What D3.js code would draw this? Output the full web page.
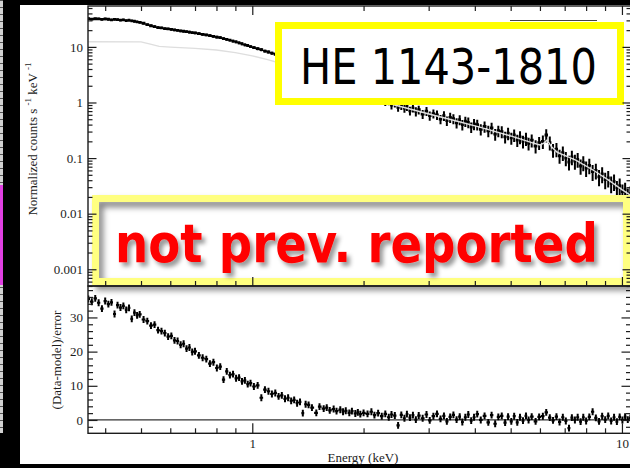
<!DOCTYPE html>
<html>
<head>
<meta charset="utf-8">
<script src="https://cdn.jsdelivr.net/npm/d3@7"></script>
<style>
  html, body { margin: 0; padding: 0; background: #000; overflow: hidden; }
  svg { display: block; }
</style>
</head>
<body>
<script>
// ---- Spectrum of HE 1143-1810: binned counts, fit model and residuals ----

// Bin centre energies (keV)
const energy = [
  0.360,0.368,0.376,0.384,0.392,0.400,0.408,0.416,0.424,0.432,0.440,0.448,0.456,0.464,0.472,0.480,0.488,0.496,
  0.508,0.520,0.532,0.544,0.556,0.568,0.580,0.592,0.604,0.616,0.628,0.640,0.652,0.664,0.676,0.688,0.700,
  0.717,0.734,0.751,0.768,0.785,0.802,0.819,0.836,0.853,0.870,0.887,0.904,0.921,0.938,0.955,0.972,0.989,
  1.010,1.034,1.058,1.082,1.106,1.130,1.154,1.178,1.202,1.226,1.250,1.274,1.298,1.322,1.346,1.370,1.394,
  1.42,1.45,1.49,1.52,1.56,1.59,1.62,1.66,1.69,1.73,1.76,1.79,1.83,1.86,1.90,1.93,1.96,2.00,
  2.05,2.10,2.14,2.19,2.24,2.29,2.34,2.38,2.43,2.48,2.53,2.58,2.62,2.67,2.72,2.77,
  2.82,2.89,2.96,3.02,3.09,3.16,3.23,3.30,3.36,3.43,3.50,3.57,3.64,3.70,3.77,3.84,3.91,3.98,
  4.06,4.15,4.25,4.35,4.44,4.54,4.63,4.73,4.83,4.92,5.02,5.11,5.21,5.30,5.40,5.50,5.59,
  5.70,5.84,5.97,6.11,6.24,6.38,6.51,6.65,6.78,6.92,7.05,7.19,7.32,7.46,7.59,7.73,7.86,8.00,
  8.16,8.33,8.50,8.67,8.84,9.01,9.18,9.35,9.52,9.69,9.86,10.03,10.20,10.37,10.54
];

// Normalized counts (counts s^-1 keV^-1)
const counts = [
  32.3,31.7,32.1,31.9,31.2,31.8,31.4,30.7,31.3,30.9,30.2,30.6,29.7,30.2,29.4,28.9,28.2,27.6,
  26.6,25.2,24.0,23.2,22.3,22.0,21.3,21.1,20.6,20.2,19.9,19.4,19.1,18.8,18.5,18.0,17.8,
  17.3,16.8,16.4,15.9,15.5,15.0,14.7,14.1,13.7,13.2,12.7,12.3,11.8,11.4,10.9,10.6,10.1,
  9.7,9.3,8.9,8.4,8.1,7.7,7.4,7.1,6.8,6.5,6.2,5.95,5.7,5.45,5.2,5.0,4.8,
  4.6,4.35,4.05,3.85,3.6,3.4,3.25,3.05,2.9,2.7,2.55,2.42,2.28,2.15,2.02,1.92,1.82,1.72,
  1.52,1.36,1.33,1.18,1.20,1.03,1.05,0.90,0.97,0.82,0.88,0.79,0.85,0.71,0.80,0.69,
  0.74,0.62,0.70,0.58,0.63,0.60,0.50,0.58,0.47,0.54,0.51,0.43,0.49,0.40,0.46,0.44,0.36,0.41,
  0.40,0.33,0.37,0.31,0.35,0.27,0.31,0.30,0.24,0.28,0.23,0.26,0.21,0.24,0.20,0.225,0.185,
  0.21,0.165,0.19,0.20,0.26,0.19,0.14,0.145,0.11,0.125,0.10,0.085,0.105,0.088,0.095,0.072,0.083,0.066,
  0.074,0.057,0.060,0.046,0.052,0.041,0.044,0.035,0.038,0.029,0.032,0.025,0.027,0.021,0.023
];

// Fractional 1-sigma error on each count rate
const countsRelErr = [
  0.046,0.048,0.045,0.047,0.046,0.049,0.046,0.047,0.048,0.046,0.047,0.049,0.046,0.048,0.047,0.049,0.048,0.050,
  0.050,0.051,0.049,0.052,0.050,0.051,0.053,0.050,0.051,0.052,0.050,0.053,0.051,0.052,0.054,0.051,0.053,
  0.055,0.056,0.054,0.057,0.055,0.056,0.058,0.055,0.057,0.056,0.058,0.057,0.059,0.057,0.058,0.060,0.059,
  0.060,0.061,0.062,0.060,0.063,0.061,0.062,0.064,0.062,0.063,0.065,0.063,0.064,0.066,0.065,0.067,0.066,
  0.068,0.070,0.069,0.071,0.070,0.072,0.071,0.073,0.072,0.074,0.075,0.077,0.076,0.078,0.080,0.083,0.085,0.088,
  0.140,0.150,0.145,0.155,0.150,0.160,0.155,0.165,0.160,0.170,0.165,0.175,0.170,0.180,0.175,0.185,
  0.175,0.185,0.180,0.190,0.185,0.195,0.190,0.200,0.195,0.205,0.200,0.210,0.205,0.215,0.210,0.220,0.215,0.225,
  0.220,0.230,0.225,0.235,0.230,0.240,0.235,0.245,0.240,0.250,0.245,0.255,0.250,0.260,0.255,0.265,0.260,
  0.260,0.270,0.265,0.275,0.270,0.280,0.275,0.285,0.280,0.290,0.285,0.295,0.290,0.300,0.295,0.305,0.300,0.310,
  0.310,0.320,0.315,0.325,0.320,0.330,0.325,0.335,0.330,0.340,0.335,0.345,0.340,0.350,0.345
];

// (Data - model) / error for each bin
const resid = [
  35.4,34.6,35.6,34.3,32.6,34.8,33.9,34.4,31.0,33.6,32.9,33.4,32.2,32.8,29.6,31.4,30.6,30.9,
  29.4,28.9,27.6,27.9,26.3,26.0,25.4,24.4,24.6,23.3,23.1,22.0,22.3,20.9,21.2,19.9,20.1,
  18.9,18.2,17.8,16.5,16.9,15.2,15.6,11.8,14.2,13.1,13.4,12.2,12.4,11.3,11.6,10.5,10.8,
  9.8,10.1,6.5,8.9,8.4,7.6,7.9,6.9,7.2,6.2,6.5,5.6,5.9,4.9,5.3,2.0,4.6,
  4.4,3.6,2.1,3.9,3.3,3.6,2.8,3.2,2.6,3.0,2.4,2.7,2.1,2.6,1.9,2.2,1.7,2.1,
  1.8,2.4,1.4,2.0,1.1,1.8,0.8,1.6,1.3,-1.6,1.5,0.5,1.7,0.7,1.4,0.1,
  1.3,0.5,1.6,-0.1,1.1,1.8,0.3,1.2,-0.4,0.9,1.5,0.1,1.0,-0.6,0.8,1.6,-0.2,0.8,
  1.7,0.0,1.2,-0.7,1.4,-1.1,0.9,1.2,-0.8,1.0,-0.4,1.1,-0.7,0.8,-0.2,1.2,0.0,
  1.0,-0.4,0.9,1.1,2.2,0.7,-0.1,1.0,-0.6,0.8,-0.3,-2.4,0.7,0.0,0.8,-0.5,0.8,-0.3,
  0.9,2.4,0.6,-0.4,1.1,0.1,1.2,-0.3,0.8,-0.5,0.9,0.0,1.0,0.1,0.6
];

// Folded model curve
const modelE = [0.36,0.50,0.53,0.56,0.60,0.70,0.80,0.90,1.00,1.10,1.30,1.50,1.70,1.90,2.10,2.40,2.90,3.50,4.10,5.00,5.70,6.00,6.15,6.27,6.45,6.67,7.50,8.35,9.20,10.00,10.60];
const modelCounts = [12.4,12.3,11.2,10.2,9.9,9.4,8.8,7.9,6.9,5.9,4.3,3.2,2.4,1.8,1.38,0.92,0.66,0.48,0.365,0.25,0.19,0.172,0.185,0.21,0.16,0.128,0.092,0.061,0.040,0.027,0.021];

// Tick labels
const countTickValues = [10, 1, 0.1, 0.01, 0.001];
const countTickLabels = ["10", "1", "0.1", "0.01", "0.001"];
const residTickValues = [0, 10, 20, 30];
const energyTickValues = [1, 10];
const energyTickLabels = ["1", "10"];

// ---- Layout ----
const W = 630, H = 468;
const L = 88, R = 631, T = 6, MID = 286, B = 433.3;
const serif = "'Liberation Serif', 'Times New Roman', serif";
const sans = "'DejaVu Sans', Verdana, sans-serif";
const ink = "#1c1c1c";

const svg = d3.select("body").append("svg").attr("width", W).attr("height", H);
const defs = svg.append("defs");

const boxShadow = defs.append("filter").attr("id", "boxShadow")
  .attr("x", "-10%").attr("y", "-20%").attr("width", "120%").attr("height", "140%");
boxShadow.append("feDropShadow").attr("dx", 4).attr("dy", 5).attr("stdDeviation", 3)
  .attr("flood-color", "#000").attr("flood-opacity", 0.5);

const textShadow = defs.append("filter").attr("id", "textShadow")
  .attr("x", "-5%").attr("y", "-20%").attr("width", "110%").attr("height", "150%");
textShadow.append("feDropShadow").attr("dx", 4).attr("dy", 4).attr("stdDeviation", 2.2)
  .attr("flood-color", "#000").attr("flood-opacity", 0.4);

const ruler = defs.append("pattern").attr("id", "ruler")
  .attr("patternUnits", "userSpaceOnUse").attr("width", 4).attr("height", 7);
ruler.append("rect").attr("width", 4).attr("height", 1).attr("fill", "#555");

defs.append("clipPath").attr("id", "clipTop").append("rect")
  .attr("x", L).attr("y", T).attr("width", R - L).attr("height", MID - T);
defs.append("clipPath").attr("id", "clipRes").append("rect")
  .attr("x", L).attr("y", MID).attr("width", R - L).attr("height", B - MID);

// Slide backdrop
svg.append("rect").attr("width", W).attr("height", H).attr("fill", "#000");
svg.append("rect").attr("x", 0).attr("y", 0).attr("width", 3).attr("height", 433).attr("fill", "#d2d2d2");
svg.append("rect").attr("x", 0).attr("y", 0).attr("width", 3).attr("height", 433).attr("fill", "url(#ruler)");
svg.append("rect").attr("x", 0).attr("y", 185).attr("width", 3).attr("height", 100).attr("fill", "#e040e2");
svg.append("rect").attr("x", 20).attr("y", 5).attr("width", W - 20).attr("height", 459).attr("fill", "#fff");

// Scales
const x = d3.scaleLog().domain([0.3594, 10.58]).range([L, R]);
const yTop = d3.scaleLog().domain([5.0e-4, 54.4]).range([MID, T]);
const yRes = d3.scaleLinear().domain([-3.9, 39.2]).range([B, MID]);

// Bins with edges halfway (in log) between neighbouring centres
const bins = energy.map((e, i) => {
  const prev = i > 0 ? energy[i - 1] : e * e / energy[i + 1];
  const next = i < energy.length - 1 ? energy[i + 1] : e * e / energy[i - 1];
  return {
    e, lo: Math.sqrt(prev * e), hi: Math.sqrt(e * next),
    c: counts[i], err: counts[i] * countsRelErr[i], r: resid[i]
  };
});

// Error-bar crosses: horizontal bin width and vertical error, drawn as two strokes
function drawCrosses(g, yOf, yHi, yLo, hWidth, vWidth) {
  g.append("path")
    .attr("d", bins.map(d => `M${x(d.lo)},${yOf(d)}H${x(d.hi)}`).join(""))
    .attr("fill", "none").attr("stroke", "#000").attr("stroke-width", hWidth);
  g.append("path")
    .attr("d", bins.map(d => `M${x(d.e)},${yHi(d)}V${yLo(d)}`).join(""))
    .attr("fill", "none").attr("stroke", "#000").attr("stroke-width", vWidth);
}

// ---- Upper panel: data crosses and model ----
const gTop = svg.append("g").attr("clip-path", "url(#clipTop)");
drawCrosses(gTop, d => yTop(d.c), d => yTop(d.c + d.err), d => yTop(d.c - d.err), 2.8, 2);

const model = modelE.map((e, i) => ({ e, m: modelCounts[i] }));
gTop.append("path").datum(model)
  .attr("d", d3.line().x(d => x(d.e)).y(d => yTop(d.m)))
  .attr("fill", "none").attr("stroke", "#dedede").attr("stroke-width", 1.4);

// ---- Lower panel: residuals ----
const gRes = svg.append("g").attr("clip-path", "url(#clipRes)");
gRes.append("line").attr("x1", L).attr("x2", R).attr("y1", yRes(0)).attr("y2", yRes(0))
  .attr("stroke", "#333").attr("stroke-width", 1.3);
drawCrosses(gRes, d => yRes(d.r), d => yRes(d.r + 1), d => yRes(d.r - 1), 2.2, 2);

// Text squeezed horizontally to a given width
function fitText(sel, width) {
  const natural = sel.node().getComputedTextLength();
  const x0 = +sel.attr("x"), y0 = +sel.attr("y");
  sel.attr("x", 0).attr("y", 0)
    .attr("transform", `translate(${x0},${y0}) scale(${width / natural},1)`);
}

// ---- Title box ----
svg.append("line").attr("x1", 510).attr("x2", 597).attr("y1", 20.5).attr("y2", 20.5)
  .attr("stroke", "#444").attr("stroke-width", 1);
svg.append("rect").attr("x", 278.5).attr("y", 25.5).attr("width", 342).attr("height", 76)
  .attr("fill", "#fff").attr("stroke", "#ffff00").attr("stroke-width", 7);
svg.append("text").attr("x", 300).attr("y", 83.5)
  .attr("font-family", sans).attr("font-size", 50)
  .attr("fill", "#000").text("HE 1143-1810").call(fitText, 297);

// ---- Note box ----
svg.append("rect").attr("x", 95.5).attr("y", 198.5).attr("width", 531).attr("height", 83)
  .attr("fill", "#fff");
svg.append("rect").attr("x", 95.5).attr("y", 198.5).attr("width", 531).attr("height", 83)
  .attr("fill", "none").attr("stroke", "#ffff80").attr("stroke-width", 7)
  .attr("filter", "url(#boxShadow)");
svg.append("text").attr("x", 115).attr("y", 262)
  .attr("font-family", sans).attr("font-weight", "bold").attr("font-size", 54)
  .attr("fill", "#ff0000").attr("filter", "url(#textShadow)")
  .text("not prev. reported").call(fitText, 483);

// ---- Axes ----
const isDecade = v => Math.abs(Math.log10(v) - Math.round(Math.log10(v))) < 1e-9;
const xMinor = x.ticks().filter(v => !isDecade(v));
const yTopMinor = yTop.ticks().filter(v => !isDecade(v));
const yResMinor = yRes.ticks(20).filter(v => v % 10 !== 0);

function styleAxis(g) {
  g.select(".domain").remove();
  g.selectAll(".tick line").attr("stroke", ink).attr("stroke-width", 1.2);
  g.selectAll(".tick text").attr("font-family", serif).attr("font-size", 13).attr("fill", ink);
}
function addAxis(gen, tx, ty) {
  svg.append("g").attr("transform", `translate(${tx},${ty})`).call(gen).call(styleAxis);
}

// upper panel ticks
addAxis(d3.axisLeft(yTop).tickValues(yTopMinor).tickSize(-4.5).tickFormat(""), L, 0);
addAxis(d3.axisLeft(yTop).tickValues(countTickValues).tickSize(-8.5).tickPadding(5)
  .tickFormat((d, i) => countTickLabels[i]), L, 0);
addAxis(d3.axisRight(yTop).tickValues(yTopMinor).tickSize(-4.5).tickFormat(""), R, 0);
addAxis(d3.axisRight(yTop).tickValues(countTickValues).tickSize(-8.5).tickFormat(""), R, 0);
addAxis(d3.axisTop(x).tickValues(xMinor).tickSize(-5).tickFormat(""), 0, T);
addAxis(d3.axisTop(x).tickValues(energyTickValues).tickSize(-9).tickFormat(""), 0, T);
addAxis(d3.axisBottom(x).tickValues(xMinor).tickSize(-5).tickFormat(""), 0, MID);
addAxis(d3.axisBottom(x).tickValues(energyTickValues).tickSize(-9).tickFormat(""), 0, MID);

// lower panel ticks
addAxis(d3.axisLeft(yRes).tickValues(yResMinor).tickSize(-5).tickFormat(""), L, 0);
addAxis(d3.axisLeft(yRes).tickValues(residTickValues).tickSize(-9.5).tickPadding(5), L, 0);
addAxis(d3.axisRight(yRes).tickValues(yResMinor).tickSize(-5).tickFormat(""), R, 0);
addAxis(d3.axisRight(yRes).tickValues(residTickValues).tickSize(-9.5).tickFormat(""), R, 0);
addAxis(d3.axisBottom(x).tickValues(xMinor).tickSize(-5).tickFormat(""), 0, B);
addAxis(d3.axisBottom(x).tickValues(energyTickValues).tickSize(-10).tickPadding(5.5)
  .tickFormat((d, i) => energyTickLabels[i]), 0, B);

// frames
svg.append("rect").attr("x", L).attr("y", T).attr("width", R - L).attr("height", MID - T)
  .attr("fill", "none").attr("stroke", ink).attr("stroke-width", 1.4);
svg.append("rect").attr("x", L).attr("y", MID).attr("width", R - L).attr("height", B - MID)
  .attr("fill", "none").attr("stroke", ink).attr("stroke-width", 1.4);

// axis titles
svg.append("text").attr("x", 363).attr("y", 462).attr("text-anchor", "middle")
  .attr("font-family", serif).attr("font-size", 13).attr("fill", ink).text("Energy (keV)");

const yt = svg.append("text").attr("transform", "translate(37,139) rotate(-90)")
  .attr("text-anchor", "middle").attr("font-family", serif).attr("font-size", 13).attr("fill", ink);
yt.append("tspan").text("Normalized counts s ");
yt.append("tspan").attr("font-size", 9).attr("dy", -6).text("-1");
yt.append("tspan").attr("dy", 6).text("  keV ");
yt.append("tspan").attr("font-size", 9).attr("dy", -6).text("-1");

svg.append("text").attr("transform", "translate(61,360) rotate(-90)")
  .attr("text-anchor", "middle").attr("font-family", serif).attr("font-size", 13)
  .attr("fill", ink).text("(Data-model)/error");
</script>
</body>
</html>
